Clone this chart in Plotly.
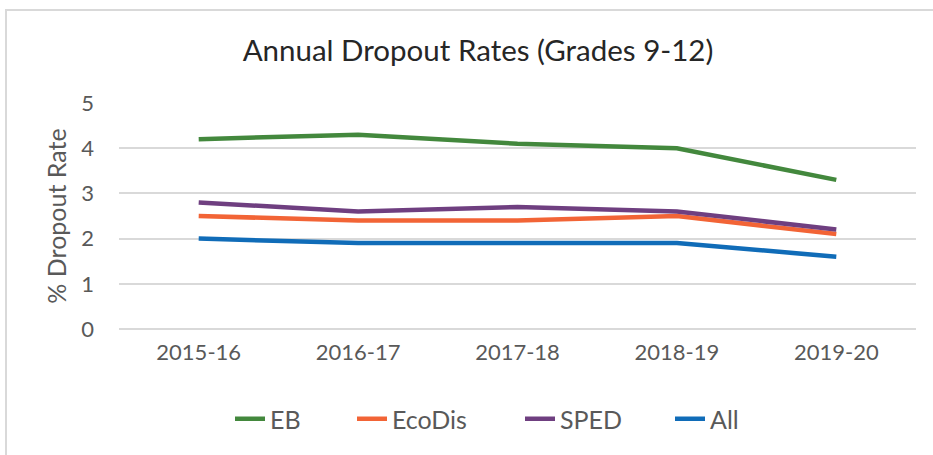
import plotly.graph_objects as go

years = ["2015-16", "2016-17", "2017-18", "2018-19", "2019-20"]
eb = [4.2, 4.3, 4.1, 4.0, 3.3]
ecodis = [2.5, 2.4, 2.4, 2.5, 2.1]
sped = [2.8, 2.6, 2.7, 2.6, 2.2]
all_students = [2.0, 1.9, 1.9, 1.9, 1.6]

series = [
    ("EB", eb, "#43883d"),
    ("EcoDis", ecodis, "#f26436"),
    ("SPED", sped, "#6f3f80"),
    ("All", all_students, "#106cb8"),
]

FONT = "Lato, 'Open Sans', sans-serif"

W, H = 933, 455
L, R, T, B = 119, 17, 103, 126
pw, ph = W - L - R, H - T - B

# legend text start positions (pixels) for each series
legend_text_x = [270, 392, 560, 710]
legend_ids = ["legend", "legend2", "legend3", "legend4"]

fig = go.Figure()
for (name, vals, color), lid in zip(series, legend_ids):
    fig.add_trace(go.Scatter(
        x=years, y=vals, name=name, mode="lines", legend=lid,
        line=dict(color=color, width=4.5, shape="linear"),
    ))

legend_y = -(419 - (T + ph)) / ph
legend_layouts = {}
for tx, lid in zip(legend_text_x, legend_ids):
    legend_layouts[lid] = dict(
        orientation="h", x=(tx - 40 - L) / pw, xanchor="left", xref="paper",
        y=legend_y, yanchor="middle",
        font=dict(family=FONT, size=25, color="#595959"),
        bgcolor="rgba(0,0,0,0)",
    )

fig.update_layout(
    width=W, height=H,
    margin=dict(l=L, r=R, t=T, b=B),
    paper_bgcolor="white", plot_bgcolor="white",
    font=dict(family=FONT, color="#595959", size=22),
    title=dict(text="Annual Dropout Rates (Grades 9-12)", x=478 / W, xref="container",
               xanchor="center", y=1 - 51 / H, yanchor="middle",
               font=dict(family=FONT, size=29.5, color="#262626")),
    showlegend=True,
    xaxis=dict(showgrid=False, showline=False, ticks="", tickfont=dict(size=22),
               range=[-0.5, 4.5], ticklabelstandoff=8),
    yaxis=dict(range=[0, 5], dtick=1, showgrid=True, gridcolor="#d9d9d9", gridwidth=1.5,
               zeroline=True, zerolinecolor="#d9d9d9", zerolinewidth=1.5,
               showline=False, ticks="", tickfont=dict(size=22), ticklabelstandoff=24,
               title=dict(text="% Dropout Rate", font=dict(size=25, color="#595959"), standoff=7)),
    shapes=[
        dict(type="line", xref="paper", yref="paper",
             x0=(5 - L) / pw, x1=(W + 5 - L) / pw,
             y0=(H - 10 - B) / ph, y1=(H - 10 - B) / ph,
             line=dict(color="#d9d9d9", width=2)),
        dict(type="line", xref="paper", yref="paper",
             x0=(6 - L) / pw, x1=(6 - L) / pw,
             y0=(H - 10 - B) / ph, y1=-(B + 10) / ph,
             line=dict(color="#d9d9d9", width=2)),
    ],
    **legend_layouts,
)

fig.write_html("out.html", config={"displayModeBar": False},
               post_script="document.body.style.margin='0';")
